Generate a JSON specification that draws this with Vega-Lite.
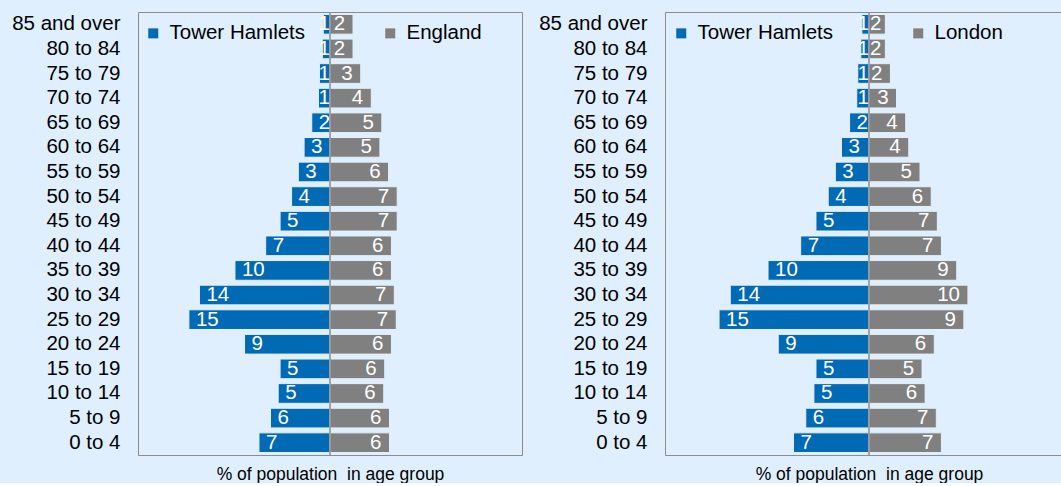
{
  "$schema": "https://vega.github.io/schema/vega-lite/v6.json",
  "background": "#DFEFFD",
  "padding": {"left": 11, "top": 10, "right": 0, "bottom": 0},
  "spacing": 15,
  "config": {
    "font": "Liberation Sans",
    "view": {"stroke": "#8C8C8C", "strokeWidth": 1},
    "axisY": {"labelFontSize": 20.5, "labelColor": "#000000", "ticks": false, "domain": false, "labelPadding": 18, "title": null, "grid": false},
    "axisX": {"labels": false, "ticks": false, "domain": false, "grid": false, "titleFontSize": 17.5, "titleFontWeight": "normal", "titleColor": "#000000", "titlePadding": 10},
    "legend": {"orient": "none", "direction": "horizontal", "title": null, "symbolType": "square", "symbolSize": 100, "symbolStrokeWidth": 0, "labelFontSize": 20.5, "labelColor": "#000000", "labelOffset": 6, "columnPadding": 74, "padding": 0}
  },
  "datasets": {
    "pop": [
      {"age": "85 and over", "area": "Tower Hamlets", "value": 0.7},
      {"age": "80 to 84", "area": "Tower Hamlets", "value": 0.8},
      {"age": "75 to 79", "area": "Tower Hamlets", "value": 1.1},
      {"age": "70 to 74", "area": "Tower Hamlets", "value": 1.2},
      {"age": "65 to 69", "area": "Tower Hamlets", "value": 1.9},
      {"age": "60 to 64", "area": "Tower Hamlets", "value": 2.7},
      {"age": "55 to 59", "area": "Tower Hamlets", "value": 3.3},
      {"age": "50 to 54", "area": "Tower Hamlets", "value": 4.0},
      {"age": "45 to 49", "area": "Tower Hamlets", "value": 5.2},
      {"age": "40 to 44", "area": "Tower Hamlets", "value": 6.7},
      {"age": "35 to 39", "area": "Tower Hamlets", "value": 9.9},
      {"age": "30 to 34", "area": "Tower Hamlets", "value": 13.6},
      {"age": "25 to 29", "area": "Tower Hamlets", "value": 14.7},
      {"age": "20 to 24", "area": "Tower Hamlets", "value": 8.9},
      {"age": "15 to 19", "area": "Tower Hamlets", "value": 5.2},
      {"age": "10 to 14", "area": "Tower Hamlets", "value": 5.4},
      {"age": "5 to 9", "area": "Tower Hamlets", "value": 6.2},
      {"age": "0 to 4", "area": "Tower Hamlets", "value": 7.4},
      {"age": "85 and over", "area": "England", "value": 2.4},
      {"age": "80 to 84", "area": "England", "value": 2.4},
      {"age": "75 to 79", "area": "England", "value": 3.2},
      {"age": "70 to 74", "area": "England", "value": 4.3},
      {"age": "65 to 69", "area": "England", "value": 5.4},
      {"age": "60 to 64", "area": "England", "value": 5.2},
      {"age": "55 to 59", "area": "England", "value": 6.1},
      {"age": "50 to 54", "area": "England", "value": 7.0},
      {"age": "45 to 49", "area": "England", "value": 7.0},
      {"age": "40 to 44", "area": "England", "value": 6.4},
      {"age": "35 to 39", "area": "England", "value": 6.4},
      {"age": "30 to 34", "area": "England", "value": 6.7},
      {"age": "25 to 29", "area": "England", "value": 6.9},
      {"age": "20 to 24", "area": "England", "value": 6.4},
      {"age": "15 to 19", "area": "England", "value": 5.7},
      {"age": "10 to 14", "area": "England", "value": 5.6},
      {"age": "5 to 9", "area": "England", "value": 6.2},
      {"age": "0 to 4", "area": "England", "value": 6.2},
      {"age": "85 and over", "area": "London", "value": 1.6},
      {"age": "80 to 84", "area": "London", "value": 1.6},
      {"age": "75 to 79", "area": "London", "value": 2.1},
      {"age": "70 to 74", "area": "London", "value": 2.7},
      {"age": "65 to 69", "area": "London", "value": 3.6},
      {"age": "60 to 64", "area": "London", "value": 3.9},
      {"age": "55 to 59", "area": "London", "value": 5.0},
      {"age": "50 to 54", "area": "London", "value": 6.1},
      {"age": "45 to 49", "area": "London", "value": 6.7},
      {"age": "40 to 44", "area": "London", "value": 7.1},
      {"age": "35 to 39", "area": "London", "value": 8.6},
      {"age": "30 to 34", "area": "London", "value": 9.7},
      {"age": "25 to 29", "area": "London", "value": 9.3},
      {"age": "20 to 24", "area": "London", "value": 6.4},
      {"age": "15 to 19", "area": "London", "value": 5.2},
      {"age": "10 to 14", "area": "London", "value": 5.5},
      {"age": "5 to 9", "area": "London", "value": 6.6},
      {"age": "0 to 4", "area": "London", "value": 7.1}
    ]
  },
  "resolve": {"scale": {"x": "independent", "y": "independent", "color": "independent"}, "legend": {"color": "independent"}},
  "hconcat": [
    {
      "width": 384,
      "height": 443,
      "layer": [
        {
          "data": {"name": "pop"},
          "transform": [{"filter": "datum.area != 'London'"}, {"calculate": "datum.area == 'Tower Hamlets' ? -datum.value : datum.value", "as": "xv"}],
          "mark": {"type": "bar", "stroke": "#E4F0FB", "strokeWidth": 1},
          "encoding": {
            "y": {"field": "age", "type": "nominal", "sort": ["85 and over","80 to 84","75 to 79","70 to 74","65 to 69","60 to 64","55 to 59","50 to 54","45 to 49","40 to 44","35 to 39","30 to 34","25 to 29","20 to 24","15 to 19","10 to 14","5 to 9","0 to 4"], "scale": {"paddingInner": 0.2, "paddingOuter": 0.1}},
            "x": {"field": "xv", "type": "quantitative", "scale": {"domain": [-20, 20], "nice": false}, "axis": {"title": "% of population\u00a0 in age group"}},
            "color": {"field": "area", "type": "nominal", "scale": {"domain": ["Tower Hamlets", "England"], "range": ["#006AB4", "#808080"]}, "legend": {"legendX": 5, "legendY": 11}}
          }
        },
        {
          "data": {"values": [{}]},
          "mark": {"type": "rule", "color": "#8C8C8C", "strokeWidth": 1.5},
          "encoding": {"x": {"datum": 0}}
        },
        {
          "data": {"name": "pop"},
          "transform": [{"filter": "datum.area == 'Tower Hamlets' && datum.value >= 1.5"}, {"calculate": "-datum.value", "as": "xv"}],
          "mark": {"type": "text", "align": "left", "baseline": "middle", "dx": 7, "fontSize": 20.5, "fill": "#FFFFFF"},
          "encoding": {
            "y": {"field": "age", "type": "nominal", "sort": ["85 and over","80 to 84","75 to 79","70 to 74","65 to 69","60 to 64","55 to 59","50 to 54","45 to 49","40 to 44","35 to 39","30 to 34","25 to 29","20 to 24","15 to 19","10 to 14","5 to 9","0 to 4"]},
            "x": {"field": "xv", "type": "quantitative"},
            "text": {"field": "value", "type": "quantitative", "format": ".0f"}
          }
        },
        {
          "data": {"name": "pop"},
          "transform": [{"filter": "datum.area == 'Tower Hamlets' && datum.value < 1.5"}],
          "mark": {"type": "text", "align": "right", "baseline": "middle", "dx": 0, "fontSize": 20.5, "fill": "#FFFFFF"},
          "encoding": {
            "y": {"field": "age", "type": "nominal", "sort": ["85 and over","80 to 84","75 to 79","70 to 74","65 to 69","60 to 64","55 to 59","50 to 54","45 to 49","40 to 44","35 to 39","30 to 34","25 to 29","20 to 24","15 to 19","10 to 14","5 to 9","0 to 4"]},
            "x": {"datum": 0},
            "text": {"field": "value", "type": "quantitative", "format": ".0f"}
          }
        },
        {
          "data": {"name": "pop"},
          "transform": [{"filter": "datum.area == 'England' && datum.value >= 2"}],
          "mark": {"type": "text", "align": "right", "baseline": "middle", "dx": -8, "fontSize": 20.5, "fill": "#FFFFFF"},
          "encoding": {
            "y": {"field": "age", "type": "nominal", "sort": ["85 and over","80 to 84","75 to 79","70 to 74","65 to 69","60 to 64","55 to 59","50 to 54","45 to 49","40 to 44","35 to 39","30 to 34","25 to 29","20 to 24","15 to 19","10 to 14","5 to 9","0 to 4"]},
            "x": {"field": "value", "type": "quantitative"},
            "text": {"field": "value", "type": "quantitative", "format": ".0f"}
          }
        }
      ]
    },
    {
      "width": 408,
      "height": 443,
      "layer": [
        {
          "data": {"name": "pop"},
          "transform": [{"filter": "datum.area != 'England'"}, {"calculate": "datum.area == 'Tower Hamlets' ? -datum.value : datum.value", "as": "xv"}],
          "mark": {"type": "bar", "stroke": "#E4F0FB", "strokeWidth": 1},
          "encoding": {
            "y": {"field": "age", "type": "nominal", "sort": ["85 and over","80 to 84","75 to 79","70 to 74","65 to 69","60 to 64","55 to 59","50 to 54","45 to 49","40 to 44","35 to 39","30 to 34","25 to 29","20 to 24","15 to 19","10 to 14","5 to 9","0 to 4"], "scale": {"paddingInner": 0.2, "paddingOuter": 0.1}},
            "x": {"field": "xv", "type": "quantitative", "scale": {"domain": [-20, 20], "nice": false}, "axis": {"title": "% of population\u00a0 in age group"}},
            "color": {"field": "area", "type": "nominal", "scale": {"domain": ["Tower Hamlets", "London"], "range": ["#006AB4", "#808080"]}, "legend": {"legendX": 6, "legendY": 11}}
          }
        },
        {
          "data": {"values": [{}]},
          "mark": {"type": "rule", "color": "#8C8C8C", "strokeWidth": 1.5},
          "encoding": {"x": {"datum": 0}}
        },
        {
          "data": {"name": "pop"},
          "transform": [{"filter": "datum.area == 'Tower Hamlets' && datum.value >= 1.5"}, {"calculate": "-datum.value", "as": "xv"}],
          "mark": {"type": "text", "align": "left", "baseline": "middle", "dx": 7, "fontSize": 20.5, "fill": "#FFFFFF"},
          "encoding": {
            "y": {"field": "age", "type": "nominal", "sort": ["85 and over","80 to 84","75 to 79","70 to 74","65 to 69","60 to 64","55 to 59","50 to 54","45 to 49","40 to 44","35 to 39","30 to 34","25 to 29","20 to 24","15 to 19","10 to 14","5 to 9","0 to 4"]},
            "x": {"field": "xv", "type": "quantitative"},
            "text": {"field": "value", "type": "quantitative", "format": ".0f"}
          }
        },
        {
          "data": {"name": "pop"},
          "transform": [{"filter": "datum.area == 'Tower Hamlets' && datum.value < 1.5"}],
          "mark": {"type": "text", "align": "right", "baseline": "middle", "dx": 0, "fontSize": 20.5, "fill": "#FFFFFF"},
          "encoding": {
            "y": {"field": "age", "type": "nominal", "sort": ["85 and over","80 to 84","75 to 79","70 to 74","65 to 69","60 to 64","55 to 59","50 to 54","45 to 49","40 to 44","35 to 39","30 to 34","25 to 29","20 to 24","15 to 19","10 to 14","5 to 9","0 to 4"]},
            "x": {"datum": 0},
            "text": {"field": "value", "type": "quantitative", "format": ".0f"}
          }
        },
        {
          "data": {"name": "pop"},
          "transform": [{"filter": "datum.area == 'London' && datum.value >= 2"}],
          "mark": {"type": "text", "align": "right", "baseline": "middle", "dx": -8, "fontSize": 20.5, "fill": "#FFFFFF"},
          "encoding": {
            "y": {"field": "age", "type": "nominal", "sort": ["85 and over","80 to 84","75 to 79","70 to 74","65 to 69","60 to 64","55 to 59","50 to 54","45 to 49","40 to 44","35 to 39","30 to 34","25 to 29","20 to 24","15 to 19","10 to 14","5 to 9","0 to 4"]},
            "x": {"field": "value", "type": "quantitative"},
            "text": {"field": "value", "type": "quantitative", "format": ".0f"}
          }
        },
        {
          "data": {"name": "pop"},
          "transform": [{"filter": "datum.area == 'London' && datum.value < 2"}],
          "mark": {"type": "text", "align": "left", "baseline": "middle", "dx": 1, "fontSize": 20.5, "fill": "#FFFFFF"},
          "encoding": {
            "y": {"field": "age", "type": "nominal", "sort": ["85 and over","80 to 84","75 to 79","70 to 74","65 to 69","60 to 64","55 to 59","50 to 54","45 to 49","40 to 44","35 to 39","30 to 34","25 to 29","20 to 24","15 to 19","10 to 14","5 to 9","0 to 4"]},
            "x": {"datum": 0},
            "text": {"field": "value", "type": "quantitative", "format": ".0f"}
          }
        }
      ]
    }
  ]
}
